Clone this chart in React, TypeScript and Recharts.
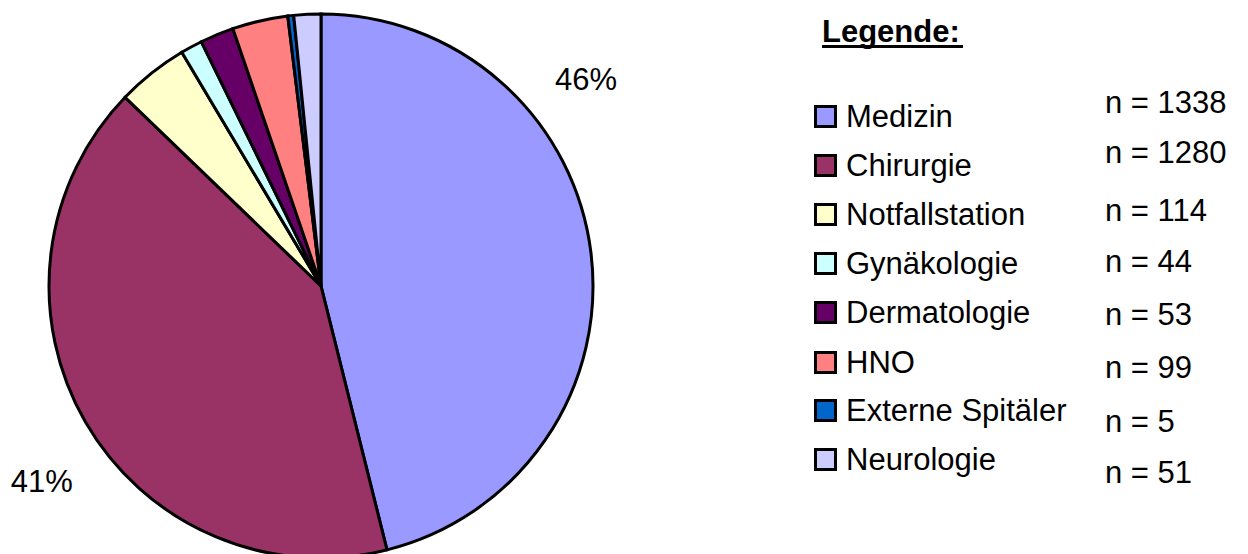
import React from "react";
import { PieChart, Pie, Cell } from "recharts";

const categories = [
  "Medizin",
  "Chirurgie",
  "Notfallstation",
  "Gynäkologie",
  "Dermatologie",
  "HNO",
  "Externe Spitäler",
  "Neurologie",
];
// share of the pie as drawn (percent)
const shares = [46.1, 41.1, 4.25, 1.3, 2.0, 3.3, 0.35, 1.6];
// counts shown in the legend
const counts = [1338, 1280, 114, 44, 53, 99, 5, 51];
const percentLabels = ["46%", "41%", "", "", "", "", "", ""];
const colors = [
  "#9999FF",
  "#993366",
  "#FFFFCC",
  "#CCFFFF",
  "#660066",
  "#FF8080",
  "#0066CC",
  "#CCCCFF",
];

const data = categories.map((name, i) => ({ name, value: shares[i] }));

const FONT = "'Liberation Sans', Arial, sans-serif";
const RAD = Math.PI / 180;

const renderLabel = (props: any) => {
  const { cx, cy, midAngle, outerRadius, index } = props;
  const text = percentLabels[index];
  if (!text) return null;
  const ang = index === 0 ? midAngle + 30.9 : midAngle + 5;
  const r = outerRadius + (index === 0 ? 64 : 69);
  const x = cx + r * Math.cos(ang * RAD);
  const y = cy - r * Math.sin(ang * RAD);
  return (
    <text
      x={x}
      y={y}
      textAnchor="middle"
      dominantBaseline="central"
      fontFamily={FONT}
      fontSize={31}
      fill="#000"
    >
      {text}
    </text>
  );
};

const rowY = [127, 176, 225, 274, 323, 373, 421, 470];
const nY = [113, 163, 221, 272, 325, 378, 432, 483];

export default function App() {
  return (
    <div style={{ position: "absolute", left: 0, top: 0, width: 1248, height: 554, background: "#fff" }}>
      <PieChart width={1248} height={554} margin={{ top: 0, right: 0, bottom: 0, left: 0 }}>
        <Pie
          data={data}
          dataKey="value"
          nameKey="name"
          cx={321}
          cy={286}
          outerRadius={272}
          startAngle={90}
          endAngle={-270}
          stroke="#000"
          strokeWidth={3}
          label={renderLabel}
          labelLine={false}
          isAnimationActive={false}
        >
          {data.map((d, i) => (
            <Cell key={d.name} fill={colors[i]} />
          ))}
        </Pie>
      </PieChart>
      <svg
        width={1248}
        height={554}
        style={{ position: "absolute", left: 0, top: 0, pointerEvents: "none" }}
      >
        <text x={822} y={42} fontFamily={FONT} fontSize={31} fontWeight="bold" fill="#000">
          Legende:
        </text>
        <rect x={822} y={45} width={141} height={3} fill="#000" />
        {categories.map((c, i) => (
          <g key={c}>
            <rect
              x={815.5}
              y={rowY[i] - 20.5}
              width={20}
              height={20}
              fill={colors[i]}
              stroke="#000"
              strokeWidth={3}
            />
            <text x={846} y={rowY[i]} fontFamily={FONT} fontSize={31} fill="#000">
              {c}
            </text>
            <text x={1105} y={nY[i]} fontFamily={FONT} fontSize={31} fill="#000">
              {`n = ${counts[i]}`}
            </text>
          </g>
        ))}
      </svg>
    </div>
  );
}
